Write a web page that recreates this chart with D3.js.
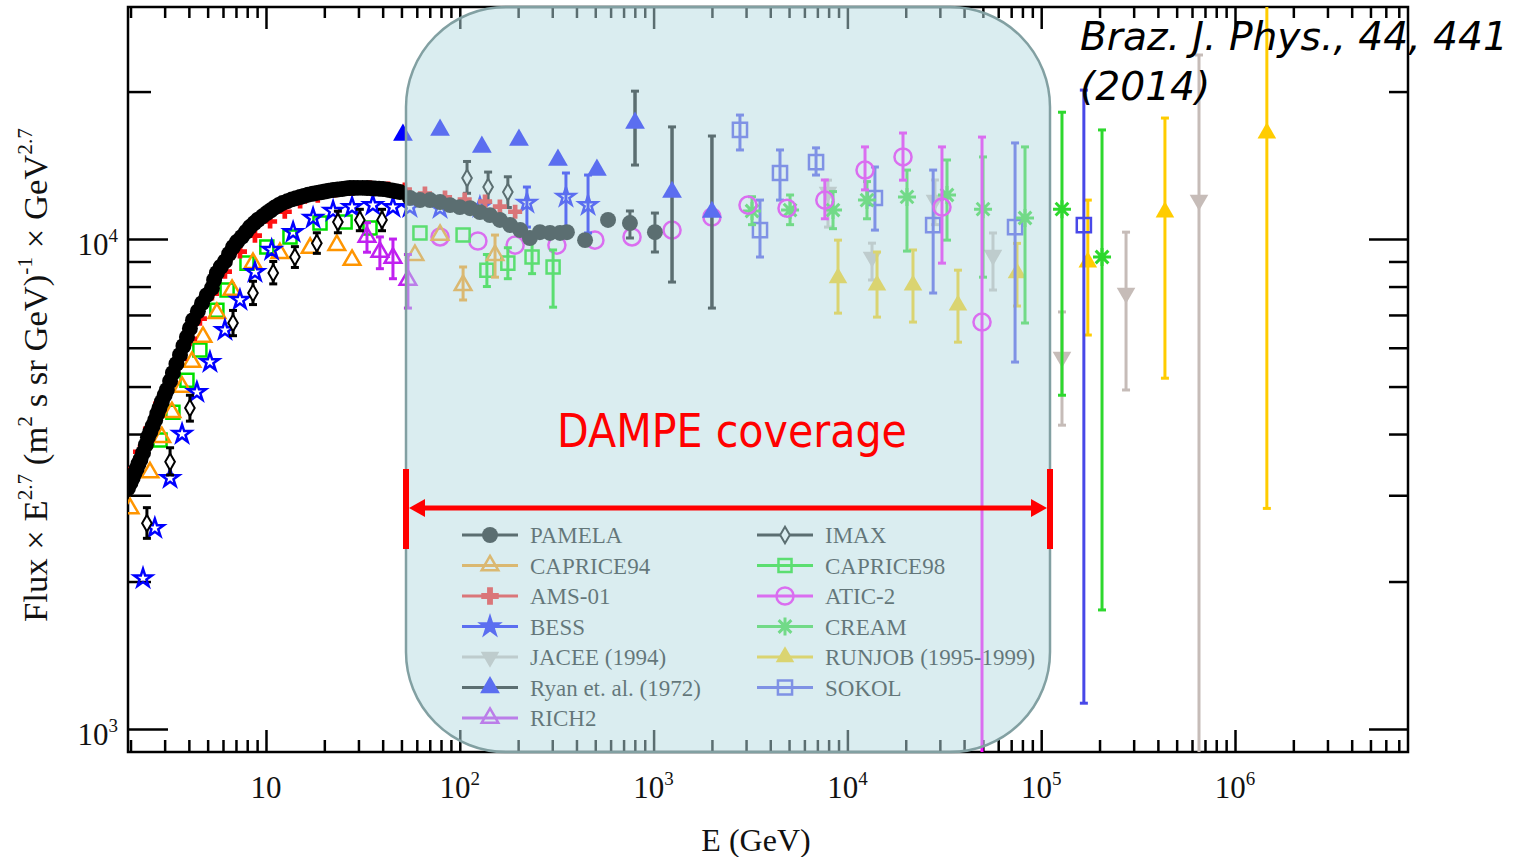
<!DOCTYPE html>
<html><head><meta charset="utf-8">
<script src="https://cdn.jsdelivr.net/npm/d3@7"></script>
<style>body{margin:0;background:#fff}</style>
</head><body>
<svg id="c" width="1522" height="857"></svg>
<script>
// ---------------- DATA ----------------
// each point: [E (GeV), Flux*E^2.7, errLow?, errHigh?]
const pamela = [[1.94,3100],[2.0,3180],[2.05,3250],[2.1,3330],[2.15,3400],[2.2,3480],[2.25,3550],[2.32,3660],[2.4,3800],[2.46,3940],[2.53,4040],[2.6,4150],[2.68,4270],[2.75,4400],[2.82,4520],[2.9,4650],[3.0,4800],[3.08,4920],[3.2,5130],[3.31,5330],[3.45,5560],[3.6,5800],[3.75,6050],[3.91,6310],[4.05,6570],[4.2,6830],[4.45,7120],[4.68,7400],[4.95,7680],[5.26,7940],[5.4,8250],[5.58,8530],[5.85,8780],[6.14,9000],[6.45,9330],[6.76,9630],[7.1,9880],[7.5,10100],[7.9,10350],[8.26,10580],[8.7,10780],[9.1,10950],[9.6,11130],[10.1,11300],[10.6,11450],[11.1,11600],[11.6,11720],[12.2,11850],[12.9,11950],[13.6,12050],[14.3,12120],[15,12180],[15.7,12250],[16.5,12320],[17.4,12370],[18.3,12420],[19.2,12460],[20.1,12500],[21.1,12550],[22.2,12590],[23.4,12620],[24.7,12650],[25.9,12690],[27.1,12710],[28.4,12715],[29.8,12720],[31.5,12720],[33.2,12710],[34.8,12700],[36.5,12680],[38.3,12670],[40.2,12650],[42.4,12610],[44.7,12560],[46.9,12520],[49.1,12470],[55.3,12130],[62.3,12010],[70.2,12010],[79.1,11900],[89,11730],[100,11620],[113,11560],[127,11350],[143,11190],[161,10940],[182,10680],[205,10430],[230,10050],[259,10330],[292,10290],[329,10290],[357,10330],[443,9950],[582,10940],[755,10780,10050,11410],[1016,10330,9410,11300]];
const caprice94 = [[1.99,2820],[2.52,3340],[2.90,3940],[3.27,4430],[3.69,4990],[4.15,5610],[4.73,6310],[5.58,7060],[6.68,7870],[8.57,8930],[11.8,9360],[16.9,9590],[23.2,9720],[27.8,9060],[58.7,9270],[79.1,10190],[104,8050,7510,8770],[152,9270,8360,10190]];
const ams01 = [[1.99,3320],[2.24,3680],[2.52,4100],[2.84,4610],[3.2,5110],[3.6,5700],[4.05,6260],[4.56,6880],[5.26,7740],[6.14,8580],[7.34,9430],[8.77,10160],[10.5,10860],[12.5,11370],[15,11930],[18.5,12260],[22.7,12560],[27.8,12680],[34.4,12740],[42.6,12680],[52.1,12620],[66.1,12380],[83.9,12160],[106,12040],[135,11930],[161,11650],[193,11370]];
const bess = [[2.32,2030],[2.67,2570],[3.20,3250],[3.69,4000],[4.40,4870],[5.14,5610],[6.14,6520],[7.34,7510],[8.77,8560],[10.7,9500],[13.8,10330],[17.5,11040],[22.2,11410],[27.8,11620],[35.6,11730],[45.2,11620],[55.3,11620],[79.1,11560],[127,11620],[222,11850,10580,12770],[353,12190,10580,13640],[459,11730,10290,13510]];
const jacee = [[7940,12470,10580,13190],[13400,9190,8250,9810],[28300,12010,10700,13200],[56400,9270,7870,10290],[128000,5740,4170,7100],[274000,7760,4920,10330],[652000,12010,500,23750]];
const ryan = [[50.9,16310],[79.1,16700],[130,15420],[202,15930],[321,14500],[510,13830],[802,17260,14160,20040],[1245,12470,8170,16940],[2000,11350,7230,16230]];
const rich2 = [[33.2,10100,9400,10800],[38.7,9410,8700,10100],[45.2,9150,8300,10000],[54.0,8250,7230,9300]];
const imax = [[2.43,2630,2450,2830],[3.20,3510,3300,3750],[4.05,4520,4250,4800],[6.76,6740,6350,7150],[8.57,7760,7350,8200],[10.9,8530,8100,9000],[14.1,9190,8750,9650],[18.3,9810,9350,10300],[23.5,10830,10300,11400],[30.5,10940,10400,11500],[39.7,10940,10400,11500],[109,13320,12400,14400],[140,12770,11900,13700],[177,12470,11600,13400]];
const caprice98 = [[2.84,3890],[3.31,4430],[3.91,5150],[4.56,5935],[5.58,7160],[6.30,7870],[7.98,8930],[10.1,9630],[13.3,10100],[19.0,10780],[25.6,10830],[34.4,10530],[62.3,10290],[104,10190],[138,8640,8000,9300],[177,8930,8300,9600],[236,9190,8500,9900],[303,8770,7260,9500]];
const atic2 = [[79.1,10100],[124,9910],[193,9720],[317,9720],[498,9950],[774,10100],[1245,10430],[2000,11090],[3070,11730],[4880,11560],[7650,12010,11000,13200],[12330,13830,12600,15420],[19360,14710,13190,16460],[30760,11620,8930,15420],[49500,6770,500,16150]];
const cream = [[3220,11410,10700,12200],[5060,11460,10700,12300],[8430,11460,10500,12500],[12620,12010,11000,13100],[20300,12190,9450,13830],[32660,12300,9950,14500],[50100,11510,8360,14710],[82500,11040,6740,15420],[128000,11510,4800,18150],[206000,9190,1750,16700]];
const runjob = [[8945,8330,7060,9950],[14220,8050,6930,9410],[21800,8050,6770,9500],[37200,7330,6160,8640],[75000,8530,7300,9800],[174000,8970,6370,12010],[435000,11350,5200,17660],[1460000,16460,2820,40000]];
const sokol = [[2790,16700,15200,17910],[3540,10430,9190,12010],[4490,13640,12010,15200],[6890,14360,13510,15350],[13870,12130,10430,14030],[27700,10680,7760,13830],[73300,10580,5610,15710],[166000,10680,1129,20140]];

const legendCol1 = ["PAMELA","CAPRICE94","AMS-01","BESS","JACEE (1994)","Ryan et. al. (1972)","RICH2"];
const legendCol2 = ["IMAX","CAPRICE98","ATIC-2","CREAM","RUNJOB (1995-1999)","SOKOL"];

const xMajorTicks = [10,100,1000,1e4,1e5,1e6];
const xTickExps = ["","2","3","4","5","6"];
const yMajorTicks = [1000,10000];
const yTickExps = ["3","4"];

// ---------------- STYLES ----------------
const styles = {
  "PAMELA":{shape:"circle",size:200,fill:"#000",stroke:"none",sw:0,bar:"#000"},
  "CAPRICE94":{shape:"triangle",size:120,fill:"none",stroke:"#ff9500",sw:2.5,bar:"#ff9500"},
  "AMS-01":{shape:"cross",size:110,fill:"#ff1010",stroke:"none",sw:0,bar:"#ff1010"},
  "BESS":{shape:"star",size:100,fill:"none",stroke:"#0000ff",sw:2.5,bar:"#0000ff"},
  "JACEE (1994)":{shape:"triDown",size:150,fill:"#c6bcb8",stroke:"none",sw:0,bar:"#c6bcb8"},
  "Ryan et. al. (1972)":{shape:"triangle",size:170,fill:"#0000ff",stroke:"none",sw:0,bar:"#000"},
  "RICH2":{shape:"triangle",size:120,fill:"none",stroke:"#c020f0",sw:2.5,bar:"#c020f0"},
  "IMAX":{shape:"diamond",size:80,fill:"#fff",stroke:"#000",sw:2,bar:"#000"},
  "CAPRICE98":{shape:"square",size:170,fill:"none",stroke:"#00e000",sw:2.5,bar:"#00e000"},
  "ATIC-2":{shape:"circle",size:230,fill:"none",stroke:"#ff00ff",sw:2.5,bar:"#ff00ff"},
  "CREAM":{shape:"asterisk",size:9,fill:"none",stroke:"#2ed82e",sw:3,bar:"#2ed82e"},
  "RUNJOB (1995-1999)":{shape:"triangle",size:150,fill:"#ffcc00",stroke:"none",sw:0,bar:"#ffcc00"},
  "SOKOL":{shape:"square",size:200,fill:"none",stroke:"#4848e8",sw:2.5,bar:"#4848e8"}
};
const seriesData = {
  "PAMELA":pamela,"CAPRICE94":caprice94,"AMS-01":ams01,"BESS":bess,"JACEE (1994)":jacee,
  "Ryan et. al. (1972)":ryan,"RICH2":rich2,"IMAX":imax,"CAPRICE98":caprice98,"ATIC-2":atic2,
  "CREAM":cream,"RUNJOB (1995-1999)":runjob,"SOKOL":sokol
};
const drawOrder = ["JACEE (1994)","RUNJOB (1995-1999)","SOKOL","CREAM","ATIC-2","CAPRICE98","CAPRICE94","RICH2","BESS","IMAX","AMS-01","PAMELA","Ryan et. al. (1972)"];

// ---------------- CHART ----------------
const svg = d3.select("#c");
const L=128,R=1408,T=7,B=752;
const x = d3.scaleLog().domain([1.941,7.81e6]).range([L,R]);
const y = d3.scaleLog().domain([897.6,29760]).range([B,T]);

svg.append("defs").append("clipPath").attr("id","plot")
  .append("rect").attr("x",L).attr("y",T).attr("width",R-L).attr("height",B-T);

function symPath(st){
  if(st.shape==="asterisk"){
    const r=st.size, d=r*0.7071;
    return `M${-r},0L${r},0M0,${-r}L0,${r}M${-d},${-d}L${d},${d}M${-d},${d}L${d},${-d}`;
  }
  const t={circle:d3.symbolCircle,triangle:d3.symbolTriangle,triDown:d3.symbolTriangle,
    square:d3.symbolSquare,diamond:d3.symbolDiamond,star:d3.symbolStar,cross:d3.symbolCross}[st.shape];
  return d3.symbol(t,st.size)();
}
function drawMarker(g,st,px,py){
  g.append("path").attr("d",symPath(st))
    .attr("transform",`translate(${px},${py})`+(st.shape==="triDown"?" rotate(180)":""))
    .attr("fill",st.fill).attr("stroke",st.stroke).attr("stroke-width",st.sw)
    .attr("stroke-linejoin","miter");
}

// axes (ticks inward)
function axis(gen,tr,vals,size){
  const g=svg.append("g").attr("transform",tr)
    .call(gen.tickValues(vals).tickSize(size).tickFormat(""));
  g.select(".domain").remove();
  g.selectAll(".tick line").attr("stroke","#000").attr("stroke-width",2.5);
}
const xMinor=[], yMinor=[];
for(let k=0;k<=6;k++) for(let m=2;m<=9;m++){const v=m*Math.pow(10,k); if(v>x.domain()[0]&&v<x.domain()[1]) xMinor.push(v);}
for(let k=2;k<=4;k++) for(let m=2;m<=9;m++){const v=m*Math.pow(10,k); if(v>y.domain()[0]*1.005&&v<y.domain()[1]) yMinor.push(v);}
axis(d3.axisBottom(x),`translate(0,${B})`,xMajorTicks,-22);
axis(d3.axisBottom(x),`translate(0,${B})`,xMinor,-12);
axis(d3.axisTop(x),`translate(0,${T})`,xMajorTicks,-22);
axis(d3.axisTop(x),`translate(0,${T})`,xMinor,-11);
axis(d3.axisLeft(y),`translate(${L},0)`,yMajorTicks,-40);
axis(d3.axisLeft(y),`translate(${L},0)`,yMinor,-23);
axis(d3.axisRight(y),`translate(${R},0)`,yMajorTicks,-39);
axis(d3.axisRight(y),`translate(${R},0)`,yMinor,-19);
svg.append("rect").attr("x",L).attr("y",T).attr("width",R-L).attr("height",B-T)
  .attr("fill","none").attr("stroke","#000").attr("stroke-width",2.5);

const serif="'Liberation Serif','Times New Roman',serif";
// tick labels
xMajorTicks.forEach((v,i)=>{
  const t=svg.append("text").attr("x",x(v)).attr("y",798).attr("text-anchor","middle")
    .attr("font-family",serif).attr("font-size",31).attr("fill","#111").text("10");
  if(xTickExps[i]) t.append("tspan").attr("dy",-13).attr("font-size",19).text(xTickExps[i]);
});
yMajorTicks.forEach((v,i)=>{
  const t=svg.append("text").attr("x",118).attr("y",y(v)+16).attr("text-anchor","end")
    .attr("font-family",serif).attr("font-size",31).attr("fill","#111").text("10");
  t.append("tspan").attr("dy",-13).attr("font-size",19).text(yTickExps[i]);
});
svg.append("text").attr("x",756).attr("y",851).attr("text-anchor","middle")
  .attr("font-family",serif).attr("font-size",32).attr("fill","#111").text("E (GeV)");

// y title
const yt=svg.append("text").attr("transform","translate(47,375) rotate(-90)")
  .attr("text-anchor","middle").attr("font-family",serif).attr("font-size",31).attr("fill","#111");
[["Flux × E",0],["2.7",1],[" (m",0],["2",1],[" s sr GeV)",0],["-1",1],[" × GeV",0],["2.7",1]].forEach(([s,sup],i,arr)=>{
  const prevSup = i>0 && arr[i-1][1];
  const ts=yt.append("tspan").text(s);
  if(sup){ts.attr("font-size",19).attr("dy",-13);} else if(prevSup){ts.attr("dy",13);}
});
{ const len=yt.node().getComputedTextLength(); const fs=31*494/len;
  yt.attr("font-size",fs); yt.selectAll("tspan").each(function(d,i){
    const s=d3.select(this); if(s.attr("font-size")) s.attr("font-size",19*fs/31);
    if(s.attr("dy")) s.attr("dy",(+s.attr("dy"))*fs/31);
  });
}

// data
const plot=svg.append("g").attr("clip-path","url(#plot)");
drawOrder.forEach(name=>{
  const st=styles[name], g=plot.append("g");
  seriesData[name].forEach(p=>{
    if(p.length>2){
      const px=x(p[0]), y1=y(p[2]), y2=y(p[3]);
      g.append("line").attr("x1",px).attr("x2",px).attr("y1",y1).attr("y2",y2)
        .attr("stroke",st.bar).attr("stroke-width",name==="Ryan et. al. (1972)"?3.5:3);
      [y1,y2].forEach(yy=>g.append("line").attr("x1",px-4).attr("x2",px+4).attr("y1",yy).attr("y2",yy)
        .attr("stroke",st.bar).attr("stroke-width",3));
    }
  });
  seriesData[name].forEach(p=>drawMarker(g,st,x(p[0]),y(p[1])));
});

// legend
const leg=svg.append("g");
[[legendCol1,462],[legendCol2,757]].forEach(([names,x0])=>{
  names.forEach((n,i)=>{
    const st=styles[n], yy=535+i*30.5;
    const lineCol = (n==="Ryan et. al. (1972)"||n==="PAMELA"||n==="IMAX")?"#000":(st.stroke!=="none"?st.stroke:st.fill);
    leg.append("line").attr("x1",x0).attr("x2",x0+56).attr("y1",yy).attr("y2",yy)
      .attr("stroke",lineCol).attr("stroke-width",3);
    const ls=Object.assign({},st);
    if(n==="BESS"){ls.fill="#0000ff";}
    if(n==="AMS-01"){ls.size=170;}
    drawMarker(leg,ls,x0+28,yy);
    leg.append("text").attr("x",x0+68).attr("y",yy+8).attr("font-family",serif)
      .attr("font-size",23).attr("fill","#111").text(n);
  });
});

// DAMPE overlay
svg.append("rect").attr("x",406).attr("y",7).attr("width",644).attr("height",745)
  .attr("rx",100).attr("ry",100).attr("fill","rgb(181,219,225)").attr("fill-opacity",0.5)
  .attr("stroke","#82a0a2").attr("stroke-width",2.5);

// red arrow
const red="#ff0000";
svg.append("line").attr("x1",420).attr("x2",1036).attr("y1",508).attr("y2",508).attr("stroke",red).attr("stroke-width",5);
svg.append("path").attr("d","M409,508L425,499L425,517Z").attr("fill",red);
svg.append("path").attr("d","M1047,508L1031,499L1031,517Z").attr("fill",red);
svg.append("rect").attr("x",403).attr("y",469).attr("width",6).attr("height",80).attr("fill",red);
svg.append("rect").attr("x",1047).attr("y",469).attr("width",6).attr("height",80).attr("fill",red);

function fitText(sel,target,fs0){
  sel.attr("font-size",fs0); const w=sel.node().getComputedTextLength();
  sel.attr("font-size",fs0*target/w);
}
const dampe=svg.append("text").attr("x",732).attr("y",447).attr("text-anchor","middle")
  .attr("font-family","'DejaVu Sans Condensed','DejaVu Sans',sans-serif").attr("fill",red).text("DAMPE coverage");
fitText(dampe,350,46);
const c1=svg.append("text").attr("x",1080).attr("y",50).attr("font-family","'DejaVu Sans',sans-serif")
  .attr("font-style","italic").attr("fill","#000").text("Braz. J. Phys., 44, 441");
fitText(c1,428,38);
svg.append("text").attr("x",1080).attr("y",100).attr("font-family","'DejaVu Sans',sans-serif")
  .attr("font-style","italic").attr("fill","#000").attr("font-size",c1.attr("font-size")).text("(2014)");
</script>
</body></html>
